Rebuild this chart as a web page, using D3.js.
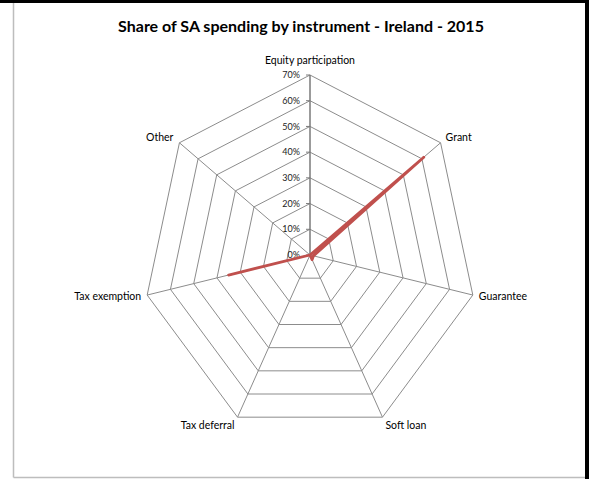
<!DOCTYPE html>
<html><head><meta charset="utf-8">
<script src="https://cdn.jsdelivr.net/npm/d3@7"></script>
<style>html,body{margin:0;padding:0;background:#fff;}svg{display:block;}</style>
</head><body>
<svg id="c" width="589" height="479"></svg>
<script>
const categories = ["Equity participation","Grant","Guarantee","Soft loan","Tax deferral","Tax exemption","Other"];
const values = [0, 61, 1.5, 2, 0, 35, 0];
const tickValues = [0,10,20,30,40,50,60,70];
const title = "Share of SA spending by instrument - Ireland - 2015";

const svg = d3.select("#c");
const W = 589, H = 479;
svg.append("rect").attr("width",W).attr("height",H).attr("fill","#fff");
// outer frame
svg.append("rect").attr("x",0).attr("y",0).attr("width",W).attr("height",3).attr("fill","#000");
svg.append("rect").attr("x",585).attr("y",0).attr("width",4).attr("height",H).attr("fill","#000");
svg.append("line").attr("x1",13.5).attr("x2",13.5).attr("y1",3).attr("y2",477.5).attr("stroke","#bdbdbd").attr("stroke-width",1.5);
svg.append("line").attr("x1",13.5).attr("x2",585).attr("y1",477.5).attr("y2",477.5).attr("stroke","#bdbdbd").attr("stroke-width",1.5);

svg.append("text").attr("x",301).attr("y",32).attr("text-anchor","middle")
  .attr("font-family","Lato, 'Open Sans', sans-serif").attr("font-weight","bold").attr("font-size",16)
  .attr("fill","#000").text(title);

const cx = 310, cy = 255, rx = 167, ry = 180;
const r = d3.scaleLinear().domain([0,70]).range([0,1]);
const n = categories.length;
const ang = i => i*2*Math.PI/n;
const pt = (i,v) => [cx + Math.sin(ang(i))*rx*r(v), cy - Math.cos(ang(i))*ry*r(v)];

const g = svg.append("g");
// rings
tickValues.slice(1).forEach(t=>{
  const pts = d3.range(n).map(i=>pt(i,t));
  g.append("path").attr("d", d3.line()(pts)+"Z").attr("fill","none").attr("stroke","#8c8c8c").attr("stroke-width",1);
});
// spokes
d3.range(n).forEach(i=>{
  const p = pt(i,70);
  g.append("line").attr("x1",cx).attr("y1",cy).attr("x2",p[0]).attr("y2",p[1])
   .attr("stroke", i===0 ? "#7a7a7a" : "#8c8c8c").attr("stroke-width", i===0?1.5:1);
});
// tick marks and labels on value axis
tickValues.forEach(t=>{
  const p = pt(0,t);
  g.append("line").attr("x1",cx-4).attr("x2",cx).attr("y1",p[1]).attr("y2",p[1]).attr("stroke","#7a7a7a");
  g.append("text").attr("x",cx-10).attr("y",p[1]).attr("dy","0.35em").attr("text-anchor","end")
   .attr("font-family","Lato, sans-serif").attr("font-size",9).attr("fill","#222").text(t+"%");
});
// category labels
const offs = [
  {dx:0, dy:-15, a:"middle"},
  {dx:5, dy:-5, a:"start"},
  {dx:6, dy:1, a:"start"},
  {dx:3, dy:8, a:"start"},
  {dx:-3, dy:8, a:"end"},
  {dx:-6, dy:1, a:"end"},
  {dx:-6, dy:-5, a:"end"}
];
categories.forEach((c,i)=>{
  const p = pt(i,70);
  g.append("text").attr("x",p[0]+offs[i].dx).attr("y",p[1]+offs[i].dy).attr("dy","0.35em")
   .attr("text-anchor",offs[i].a).attr("font-family","Lato, sans-serif").attr("font-size",10.5)
   .attr("fill","#000").text(c);
});
// series
const line = d3.line().x(d=>d[0]).y(d=>d[1]).curve(d3.curveLinearClosed);
g.append("path").attr("d", line(values.map((v,i)=>pt(i,v))))
  .attr("fill","none").attr("stroke","#C0504D").attr("stroke-width",2.8).attr("stroke-linejoin","round");
</script>
</body></html>
